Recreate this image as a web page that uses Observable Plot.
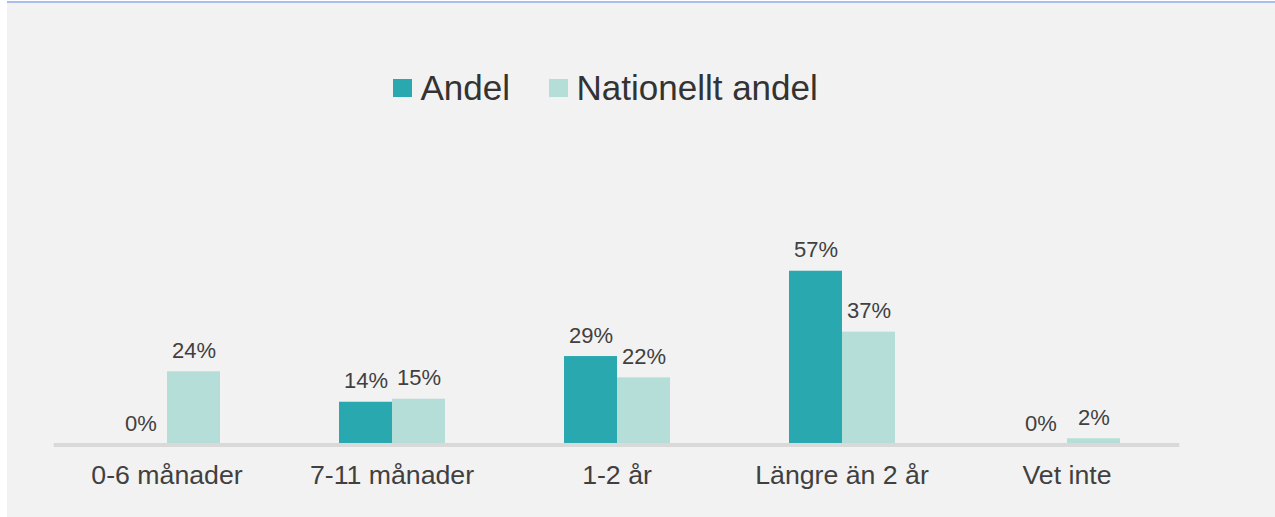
<!DOCTYPE html>
<html><head><meta charset="utf-8">
<script src="https://cdn.jsdelivr.net/npm/d3@7"></script>
<script src="https://cdn.jsdelivr.net/npm/@observablehq/plot@0.6"></script>
<style>
body{margin:0;background:#fff;font-family:"Liberation Sans",Arial,sans-serif;}
#wrap{position:absolute;left:7px;top:1px;width:1268px;height:516px;background:#f2f2f2;border-top:2px solid #a9bfe9;overflow:hidden;}
#legend{position:relative;height:127px;}
.sw{position:absolute;width:19px;height:18px;top:76px;}
.lt{position:absolute;font-size:35px;line-height:35px;top:67px;color:#333;white-space:nowrap;}
#chart svg{display:block;}
</style></head>
<body>
<div id="wrap">
  <div id="legend"></div>
  <div id="chart"></div>
</div>
<script>
const categories = ["0-6 månader", "7-11 månader", "1-2 år", "Längre än 2 år", "Vet inte"];
const series = ["Andel", "Nationellt andel"];
const andel = [0, 0.14, 0.29, 0.57, 0];
const nationellt = [0.24, 0.15, 0.22, 0.37, 0.02];
const colors = ["#29a8b0", "#b4ded7"];

const data = [];
categories.forEach((c, i) => {
  data.push({cat: c, series: series[0], value: andel[i]});
  data.push({cat: c, series: series[1], value: nationellt[i]});
});

// legend
const legend = document.getElementById("legend");
const legendPos = [{sw: 386, tx: 413.5}, {sw: 542, tx: 569.5}];
series.forEach((s, i) => {
  const sw = document.createElement("div");
  sw.className = "sw"; sw.style.left = legendPos[i].sw + "px"; sw.style.background = colors[i];
  const t = document.createElement("div");
  t.className = "lt"; t.style.left = legendPos[i].tx + "px"; t.textContent = s;
  legend.appendChild(sw); legend.appendChild(t);
});

const fmt = d3.format(".0%");
const chart = Plot.plot({
  width: 1268,
  height: 387,
  marginLeft: 45,
  marginRight: 94,
  marginTop: 131.6,
  marginBottom: 72.6,
  style: {background: "transparent", fontFamily: "'Liberation Sans', Arial, sans-serif", color: "#404040"},
  fx: {domain: categories, paddingInner: 0.524, paddingOuter: 0.262, label: null},
  x: {domain: series, padding: 0, axis: null},
  y: {domain: [0, 0.6], axis: null},
  color: {domain: series, range: colors},
  marks: [
    Plot.barY(data, {fx: "cat", x: "series", y: "value", fill: "series", inset: 0}),
    Plot.ruleY([0], {stroke: "#d9d9d9", strokeWidth: 4, insetLeft: -59.3, insetRight: -59.3}),
    Plot.text(data, {fx: "cat", x: "series", y: "value", text: d => fmt(d.value), dy: -14, lineAnchor: "bottom", fontSize: 22, fill: "#404040"}),
    Plot.axisFx({anchor: "bottom", tickSize: 0, tickPadding: 20, fontSize: 26.7, fill: "#404040", label: null})
  ]
});
document.getElementById("chart").appendChild(chart);
</script>
</body></html>
